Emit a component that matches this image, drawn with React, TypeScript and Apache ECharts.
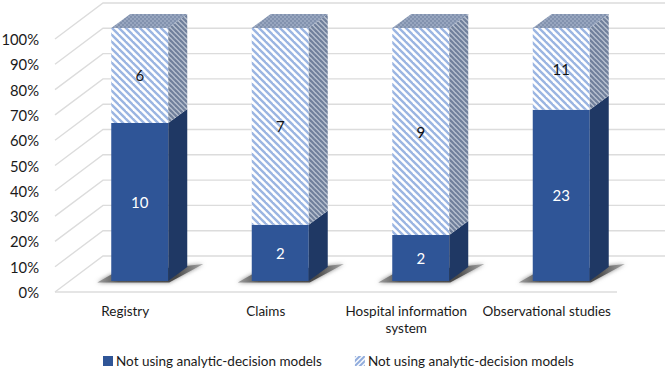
import React, { useEffect, useRef } from "react";
import * as echarts from "echarts";

const categories = ["Registry", "Claims", "Hospital information\nsystem", "Observational studies"];
const usingModels = [10, 2, 2, 23];
const notUsingModels = [6, 7, 9, 11];
const legendLabels = ["Not using analytic-decision models", "Not using analytic-decision models"];
const percentTicks = [0, 10, 20, 30, 40, 50, 60, 70, 80, 90, 100];

const FONT = "Lato, 'Open Sans', sans-serif";
const WALL_DX = 48;
const WALL_DY = -36;
const BAR_DX = 14.5;
const BAR_DY = -11;
const BAR_HALF = 28.5;
const SIDE_DX = 19;
const SIDE_DY = -14;

function stripes(period: number, bg: string, fg: string, w: number, rising = false) {
  const c = document.createElement("canvas");
  c.width = period;
  c.height = period;
  const g = c.getContext("2d")!;
  g.fillStyle = bg;
  g.fillRect(0, 0, period, period);
  g.strokeStyle = fg;
  g.lineWidth = w;
  for (let k = -1; k <= 1; k++) {
    g.beginPath();
    if (rising) {
      g.moveTo(k * period - 1, period + 1);
      g.lineTo(k * period + period + 1, -1);
    } else {
      g.moveTo(k * period - 1, -1);
      g.lineTo(k * period + period + 1, period + 1);
    }
    g.stroke();
  }
  return { image: c, repeat: "repeat" } as any;
}

function checks(size: number, a: string, b: string) {
  const c = document.createElement("canvas");
  c.width = size * 2;
  c.height = size * 2;
  const g = c.getContext("2d")!;
  g.fillStyle = a;
  g.fillRect(0, 0, size * 2, size * 2);
  g.fillStyle = b;
  g.fillRect(0, 0, size, size);
  g.fillRect(size, size, size, size);
  return { image: c, repeat: "repeat" } as any;
}

export default function App() {
  const ref = useRef<HTMLDivElement>(null);
  useEffect(() => {
    const chart = echarts.init(ref.current!, undefined, { renderer: "svg" });
    const hatchFront = stripes(7, "#ffffff", "#9bb5e2", 2.4);
    const hatchSide = stripes(5, "#b9c2d1", "#6f7f9b", 2.2);
    const hatchTop = checks(2, "#8292ae", "#98a6bf");
    const hatchLegend = stripes(5, "#ffffff", "#8fabdc", 2, true);

    const totals = categories.map((_, i) => usingModels[i] + notUsingModels[i]);
    const usingRows = usingModels.map((v, i) => [i, 0, (v / totals[i]) * 100, v]);
    const notUsingRows = notUsingModels.map((v, i) => [i, (usingModels[i] / totals[i]) * 100, 100, v]);

    const barRender = (front: any, side: any, top: any, textFill: string) => (_p: any, api: any) => {
      const i = api.value(0);
      const [cx, yb0] = api.coord([i, api.value(1)]);
      const [, yt0] = api.coord([i, api.value(2)]);
      const l = cx + BAR_DX - BAR_HALF;
      const r = cx + BAR_DX + BAR_HALF;
      const yb = yb0 + BAR_DY;
      const yt = yt0 + BAR_DY;
      const children: any[] = [
        { type: "rect", shape: { x: l, y: yt, width: r - l, height: yb - yt }, style: { fill: front } },
        {
          type: "polygon",
          shape: { points: [[r, yb], [r + SIDE_DX, yb + SIDE_DY], [r + SIDE_DX, yt + SIDE_DY], [r, yt]] },
          style: { fill: side },
        },
      ];
      if (top) {
        children.push({
          type: "polygon",
          shape: { points: [[l, yt], [r, yt], [r + SIDE_DX, yt + SIDE_DY], [l + SIDE_DX, yt + SIDE_DY]] },
          style: { fill: top },
        });
      }
      children.push({
        type: "text",
        x: (l + r) / 2,
        y: (yt + yb) / 2,
        style: {
          text: String(api.value(3)),
          fill: textFill,
          font: `15px ${FONT}`,
          align: "center",
          verticalAlign: "middle",
        },
      });
      return { type: "group", children };
    };

    chart.setOption({
      animation: false,
      backgroundColor: "#ffffff",
      grid: { left: 55, top: 39, width: 562, height: 253, outerBoundsMode: "none" },
      xAxis: {
        type: "category",
        data: categories,
        axisLine: { show: false },
        axisTick: { show: false },
        axisLabel: { color: "#1a1a1a", fontFamily: FONT, fontSize: 13.5, margin: 10, lineHeight: 17, interval: 0 },
      },
      yAxis: {
        type: "value",
        min: 0,
        max: 100,
        interval: 10,
        axisLine: { show: false },
        axisTick: { show: false },
        splitLine: { show: false },
        axisLabel: { formatter: "{value}%", color: "#1a1a1a", fontFamily: FONT, fontSize: 14.8, margin: 16 },
      },
      legend: {
        data: ["using", "notUsing"],
        left: 103,
        top: 354,
        padding: 0,
        icon: "rect",
        itemWidth: 10,
        itemHeight: 10,
        itemGap: 33,
        formatter: (name: string) => (name === "using" ? legendLabels[0] : legendLabels[1]),
        textStyle: { color: "#1a1a1a", fontFamily: FONT, fontSize: 13.5, padding: [0, 0, 0, -2] },
        selectedMode: false,
      },
      series: [
        {
          type: "custom",
          name: "walls",
          silent: true,
          clip: false,
          z: 1,
          data: percentTicks.map((t) => [0, t]),
          encode: { x: 0, y: 1 },
          renderItem: (p: any, api: any) => {
            const sys = p.coordSys;
            const y = api.coord([0, api.value(1)])[1];
            const isFloor = api.value(1) === 0;
            const xl = sys.x;
            const xr = sys.x + sys.width;
            const lineStyle = { stroke: "#dcdcdc", lineWidth: 1.4, fill: "none" };
            const children: any[] = [
              { type: "polyline", shape: { points: [[xl, y], [xl + WALL_DX, y + WALL_DY], [xr + WALL_DX, y + WALL_DY]] }, style: lineStyle },
            ];
            if (isFloor) {
              children.push({ type: "line", shape: { x1: xl, y1: y, x2: xr, y2: y }, style: lineStyle });
            }
            return { type: "group", children };
          },
        },
        {
          type: "custom",
          name: "shadow",
          silent: true,
          clip: false,
          z: 2,
          data: categories.map((_, i) => [i, 0]),
          encode: { x: 0, y: 1 },
          renderItem: (_p: any, api: any) => {
            const [cx, y0] = api.coord([api.value(0), 0]);
            const r = cx + BAR_DX + BAR_HALF;
            const y = y0 + BAR_DY;
            return {
              type: "polygon",
              shape: { points: [[r - 71, y + 1.5], [r + 1, y + 1.5], [r + 35, y - 17], [r + 18, y - 15], [r - 56, y - 7]] },
              style: {
                fill: new echarts.graphic.LinearGradient(0, 0, 1, 0, [
                  { offset: 0, color: "#a0a0a0" },
                  { offset: 0.2, color: "#555555" },
                  { offset: 0.75, color: "#4a4a4a" },
                  { offset: 1, color: "#a8a8a8" },
                ]),
                shadowBlur: 4,
                shadowColor: "#8a8a8a",
              },
            };
          },
        },
        {
          type: "custom",
          name: "using",
          clip: false,
          z: 3,
          itemStyle: { color: "#2f5597" },
          data: usingRows,
          encode: { x: 0, y: [1, 2] },
          renderItem: barRender("#2f5597", "#1f3864", null, "#ffffff"),
        },
        {
          type: "custom",
          name: "notUsing",
          clip: false,
          z: 3,
          itemStyle: { color: hatchLegend },
          data: notUsingRows,
          encode: { x: 0, y: [1, 2] },
          renderItem: barRender(hatchFront, hatchSide, hatchTop, "#111111"),
        },
      ],
    });
    return () => chart.dispose();
  }, []);
  return <div ref={ref} style={{ position: "absolute", left: 0, top: 0, width: 671, height: 370 }} />;
}
